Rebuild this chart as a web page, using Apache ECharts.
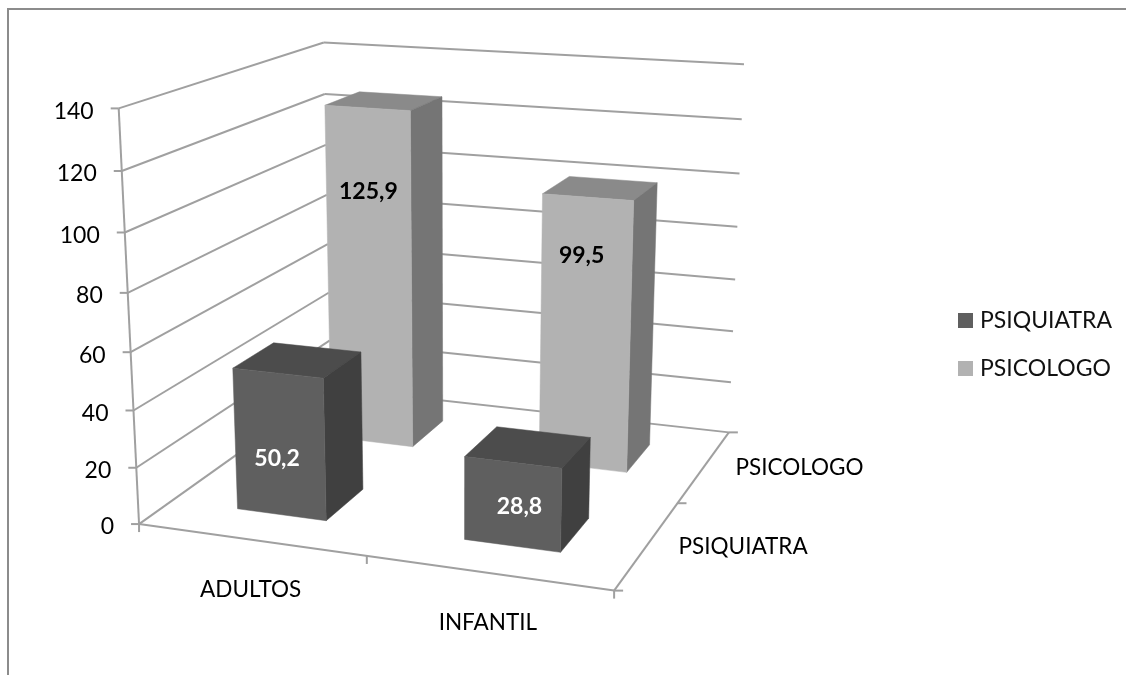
<!DOCTYPE html>
<html>
<head>
<meta charset="utf-8">
<title>Psiquiatra / Psicologo</title>
<style>html,body{margin:0;padding:0;background:#fff}#chart{width:1126px;height:675px}</style>
<script src="https://cdn.jsdelivr.net/npm/echarts@6/dist/echarts.min.js"></script>
</head>
<body>
<div id="chart"></div>
<script>
// Chart data
const categories = ['ADULTOS', 'INFANTIL'];
const depthRows = ['PSIQUIATRA', 'PSICOLOGO'];
const psiquiatra = [50.2, 28.8];
const psicologo = [125.9, 99.5];
const valueTicks = [0, 20, 40, 60, 80, 100, 120, 140];

const FONT = 'Lato, "Open Sans", sans-serif';
const LINE = '#a0a0a0';
const BAR_HALF_X = 0.1;
const BAR_HALF_Z = 0.1;
// labelAt: height of the value label on each bar as a share of the bar; labelDx: sideways nudge per category.
const shades = {
  PSIQUIATRA: { front: '#5f5f5f', top: '#4c4c4c', side: '#404040', text: '#ffffff', labelAt: [0.40, 0.47], labelDx: [-3, 7] },
  PSICOLOGO: { front: '#b2b2b2', top: '#8a8a8a', side: '#757575', text: '#000000', labelAt: [0.76, 0.79], labelDx: [0, -5] }
};

// Perspective camera for the unit box (x along categories, y up, z into the page),
// fitted by least squares to where the box corners sit on the page.
const boxCorners = [
  [0, 0, 0, 137, 525], [1, 0, 0, 614, 590], [0, 0, 1, 333, 387], [1, 0, 1, 728, 433],
  [0, 1, 0, 121, 108], [0, 1, 1, 321, 43], [1, 1, 1, 745, 64]
];
function fitCamera(points) {
  const rows = [], rhs = [];
  points.forEach(([X, Y, Z, u, v]) => {
    rows.push([X, Y, Z, 1, 0, 0, 0, 0, -u * X, -u * Y, -u * Z]); rhs.push(u);
    rows.push([0, 0, 0, 0, X, Y, Z, 1, -v * X, -v * Y, -v * Z]); rhs.push(v);
  });
  const n = 11;
  const m = [];
  for (let i = 0; i < n; i++) {
    m.push(new Array(n + 1).fill(0));
    for (let j = 0; j < n; j++) rows.forEach(r => { m[i][j] += r[i] * r[j]; });
    rows.forEach((r, k) => { m[i][n] += r[i] * rhs[k]; });
  }
  for (let c = 0; c < n; c++) {
    let best = c;
    for (let r = c + 1; r < n; r++) if (Math.abs(m[r][c]) > Math.abs(m[best][c])) best = r;
    [m[c], m[best]] = [m[best], m[c]];
    for (let r = 0; r < n; r++) {
      if (r === c) continue;
      const f = m[r][c] / m[c][c];
      for (let k = c; k <= n; k++) m[r][k] -= f * m[c][k];
    }
  }
  return m.map((row, i) => row[n] / row[i]);
}
const cam = fitCamera(boxCorners);
function project(x, y, z) {
  const w = cam[8] * x + cam[9] * y + cam[10] * z + 1;
  return [
    (cam[0] * x + cam[1] * y + cam[2] * z + cam[3]) / w,
    (cam[4] * x + cam[5] * y + cam[6] * z + cam[7]) / w
  ];
}

// Grid position of a (category, value) pair as unit-box coordinates.
function toUnit(api, params, cat, val) {
  const c = api.coord([cat, val]);
  const s = params.coordSys;
  return [(c[0] - s.x) / s.width, (s.y + s.height - c[1]) / s.height];
}

function line(a, b, width) {
  return {
    type: 'line', silent: true,
    shape: { x1: a[0], y1: a[1], x2: b[0], y2: b[1] },
    style: { stroke: LINE, lineWidth: width || 2 }
  };
}
function label(text, x, y, align, fill, weight, size) {
  return {
    type: 'text', silent: true,
    style: { text, x, y, align, verticalAlign: 'middle', fill, font: (weight || 'normal') + ' ' + (size || 22.5) + 'px ' + FONT }
  };
}
function face(points, fill) {
  return { type: 'polygon', silent: true, shape: { points }, style: { fill, stroke: fill, lineWidth: 0.5 } };
}

// One value level: wall gridlines, axis tick and tick label.
function renderLevel(params, api) {
  const value = api.value(1);
  const y = toUnit(api, params, 0, value)[1];
  const front = project(0, y, 0), back = project(0, y, 1), right = project(1, y, 1);
  return {
    type: 'group',
    children: [
      line(front, back), line(back, right),
      line([front[0] - 8, front[1]], front),
      label(String(value), front[0] - 25, front[1] + 3, 'right', '#000', 'normal', 23)
    ]
  };
}

// Floor edges, front upright and the ticks along the floor axes.
function renderFloor() {
  const o = project(0, 0, 0), fr = project(1, 0, 0), br = project(1, 0, 1), up = project(0, 1, 0);
  const children = [line(o, up), line(o, fr), line(fr, br)];
  [0, 0.5, 1].forEach(t => {
    const a = project(t, 0, 0);
    children.push(line(a, [a[0], a[1] + 8]));
    const b = project(1, 0, t);
    children.push(line(b, [b[0] + 9, b[1]]));
  });
  return { type: 'group', children };
}

function renderCategory(params, api) {
  const x = toUnit(api, params, api.value(0), 0)[0];
  const p = project(x, 0, 0);
  return label(categories[api.value(0)], p[0], p[1] + 50, 'center', '#000');
}

function renderDepth(params, api) {
  const row = api.value(0);
  const p = project(1, 0, (row + 0.5) / depthRows.length);
  return label(depthRows[row], p[0] + 31, p[1] + 2, 'left', '#000');
}

// A three-faced box standing on the floor, projected through the camera.
function boxRenderer(row, shade) {
  return function (params, api) {
    const cat = api.value(0);
    const [cx, top] = toUnit(api, params, cat, api.value(1));
    const cz = (row + 0.5) / depthRows.length;
    const x0 = cx - BAR_HALF_X, x1 = cx + BAR_HALF_X, z0 = cz - BAR_HALF_Z, z1 = cz + BAR_HALF_Z;
    const P = project;
    const fl = P(x0, 0, z0), fr = P(x1, 0, z0), tl = P(x0, top, z0), tr = P(x1, top, z0);
    const br = P(x1, 0, z1), tbr = P(x1, top, z1), tbl = P(x0, top, z1);
    const mid = P(cx, top * shade.labelAt[cat], z0);
    return {
      type: 'group',
      children: [
        face([tl, tr, tbr, tbl], shade.top),
        face([tr, fr, br, tbr], shade.side),
        face([tl, tr, fr, fl], shade.front),
        label(String(api.value(1)).replace('.', ','), mid[0] + shade.labelDx[cat], mid[1], 'center', shade.text, 'bold', 23)
      ]
    };
  };
}

function barSeries(name, row, values) {
  return {
    name, type: 'custom', z: 3,
    data: values.map((v, i) => [i, v]),
    encode: { x: 0, y: 1 },
    itemStyle: { color: shades[name].front },
    renderItem: boxRenderer(row, shades[name])
  };
}

const chart = echarts.init(document.getElementById('chart'), null, { renderer: 'canvas' });
chart.setOption({
  animation: false,
  backgroundColor: '#ffffff',
  grid: { left: 100, right: 100, top: 100, bottom: 100 },
  xAxis: { type: 'category', data: categories, show: false },
  yAxis: { type: 'value', min: 0, max: 140, interval: 20, show: false },
  legend: {
    data: depthRows,
    orient: 'vertical',
    left: 953, top: 304,
    icon: 'rect',
    itemWidth: 15, itemHeight: 15, itemGap: 25,
    selectedMode: false,
    textStyle: { fontFamily: FONT, fontSize: 23, color: '#111', padding: [0, 0, 0, 2] }
  },
  graphic: [{
    type: 'polyline', silent: true,
    shape: { points: [[8, 675], [8, 9], [1126, 9]] },
    style: { fill: null, stroke: '#8c8c8c', lineWidth: 2 }
  }],
  series: [
    { type: 'custom', z: 1, data: valueTicks.map(v => [0, v]), encode: { x: 0, y: 1 }, renderItem: renderLevel },
    { type: 'custom', z: 1, data: [[0, 0]], encode: { x: 0, y: 1 }, renderItem: renderFloor },
    { type: 'custom', z: 1, data: categories.map((c, i) => [i, 0]), encode: { x: 0, y: 1 }, renderItem: renderCategory },
    { type: 'custom', z: 1, data: depthRows.map((d, i) => [i, 0]), encode: { x: 0, y: 1 }, renderItem: renderDepth },
    barSeries('PSICOLOGO', 1, psicologo),
    barSeries('PSIQUIATRA', 0, psiquiatra)
  ]
});
</script>
</body>
</html>
